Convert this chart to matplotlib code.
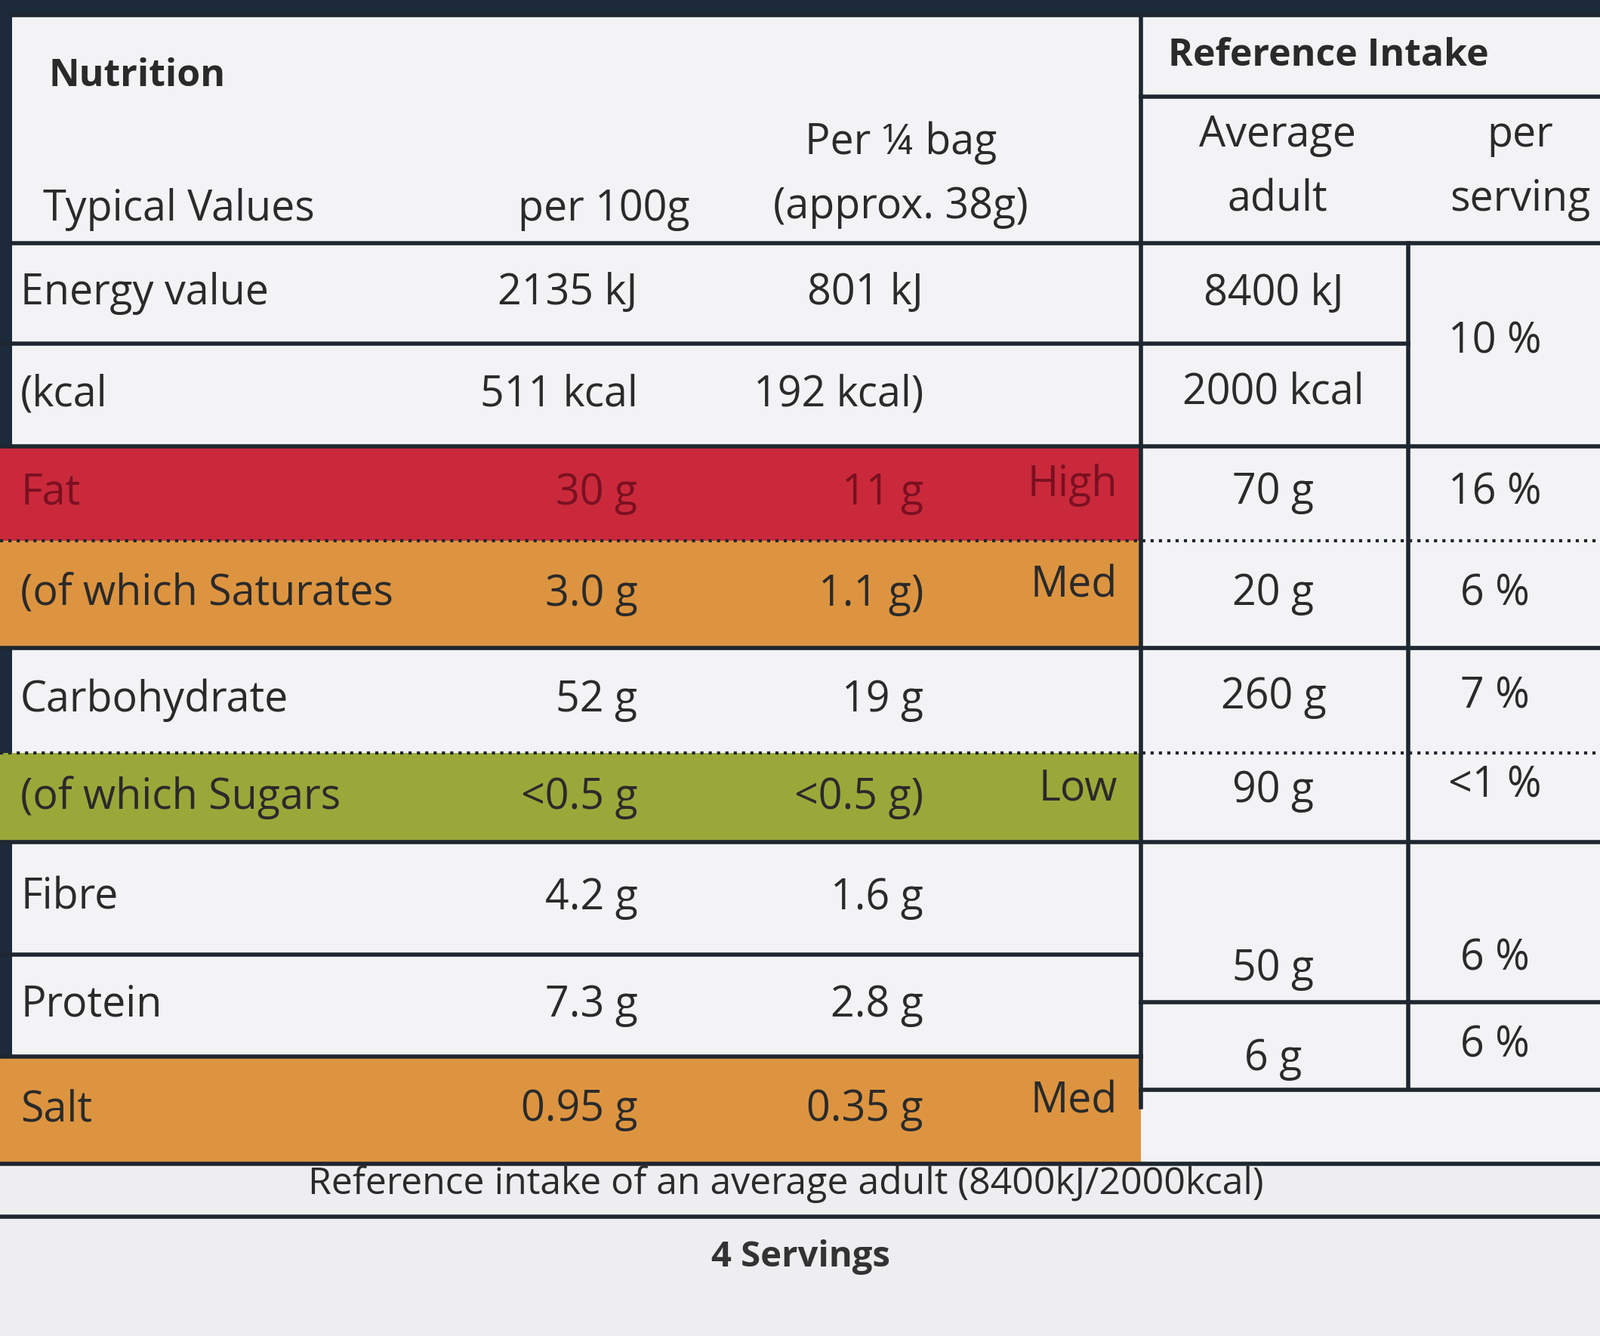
import matplotlib
matplotlib.use("Agg")
import matplotlib.pyplot as plt
from matplotlib.patches import Rectangle

nutrients = ["Energy value", "(kcal", "Fat", "(of which Saturates", "Carbohydrate",
             "(of which Sugars", "Fibre", "Protein", "Salt"]
per_100g = ["2135 kJ", "511 kcal", "30 g", "3.0 g", "52 g", "<0.5 g", "4.2 g", "7.3 g", "0.95 g"]
per_serving = ["801 kJ", "192 kcal)", "11 g", "1.1 g)", "19 g", "<0.5 g)", "1.6 g", "2.8 g", "0.35 g"]
levels = ["", "", "High", "Med", "", "Low", "", "", "Med"]
ref_intake = ["8400 kJ", "2000 kcal", "70 g", "20 g", "260 g", "90 g", "", "50 g", "6 g"]
pct_serving = ["10 %", "16 %", "6 %", "7 %", "<1 %", "", "6 %", "6 %"]

level_colors = {"High": "#c9293b", "Med": "#dd9440", "Low": "#9aa83a"}
row_edges = [238, 337, 437, 530, 635, 738, 825, 935, 1035, 1140]
# vertical centres for the reference-intake block (protein/salt are shifted)
ri_centres = [288, 385, 483, 582, 683, 775, 880, 950, 1038]
pct_centres = [335, 483, 582, 683, 770, 880, 940, 1025]
dotted = {2, 4}

fig = plt.figure(figsize=(21.19, 17.69), dpi=100)
ax = fig.add_axes([0, 0, 1, 1])
ax.set_xlim(0, 1568); ax.set_ylim(1309, 0); ax.axis("off")
fig.patch.set_facecolor("#1c2a3c")
ax.add_patch(Rectangle((12, 15), 1556, 1294, facecolor="#f3f3f5", edgecolor="none"))
ax.add_patch(Rectangle((0, 1140), 1568, 169, facecolor="#eeeef0", edgecolor="none"))

font = "Open Sans"
fs = 40
lc = "#1e2630"
tcol = "#2a2a2a"
for i, name in enumerate(nutrients):
    y0, y1 = row_edges[i], row_edges[i + 1]
    ym = (y0 + y1) / 2
    if levels[i]:
        ax.add_patch(Rectangle((0, y0), 1118, y1 - y0, facecolor=level_colors[levels[i]], edgecolor="none"))
    tc = "#7a1020" if levels[i] == "High" else tcol
    ax.text(20, ym, name, fontsize=fs, family=font, va="center", ha="left", color=tc)
    ax.text(625, ym, per_100g[i], fontsize=fs, family=font, va="center", ha="right", color=tc)
    ax.text(905, ym, per_serving[i], fontsize=fs, family=font, va="center", ha="right", color=tc)
    if levels[i]:
        ax.text(1095, ym - 8, levels[i], fontsize=fs, family=font, va="center", ha="right", color=tc)
    ax.text(1248, ri_centres[i], ref_intake[i], fontsize=fs, family=font, va="center", ha="center", color=tcol)
    if i < len(nutrients) - 1:
        if i in dotted:
            ax.plot([0, 1568], [y1, y1], color=lc, lw=3, ls=":")
        elif i == 0:
            ax.plot([0, 1380], [y1, y1], color=lc, lw=4)
        elif i in (6, 7):
            ax.plot([0, 1118], [y1, y1], color=lc, lw=4)
        else:
            ax.plot([0, 1568], [y1, y1], color=lc, lw=4)

for y, t in zip(pct_centres, pct_serving):
    ax.text(1465, y, t, fontsize=fs, family=font, va="center", ha="center", color=tcol)

# header
ax.text(48, 75, "Nutrition", fontsize=36, family=font, weight="bold", va="center", color=tcol)
ax.text(42, 205, "Typical Values", fontsize=fs, family=font, va="center", color=tcol)
ax.text(592, 205, "per 100g", fontsize=fs, family=font, va="center", ha="center", color=tcol)
ax.text(883, 140, "Per ¼ bag", fontsize=fs, family=font, va="center", ha="center", color=tcol)
ax.text(883, 203, "(approx. 38g)", fontsize=fs, family=font, va="center", ha="center", color=tcol)
ax.text(1145, 55, "Reference Intake", fontsize=36, family=font, weight="bold", va="center", color=tcol)
ax.text(1252, 133, "Average", fontsize=fs, family=font, va="center", ha="center", color=tcol)
ax.text(1252, 196, "adult", fontsize=fs, family=font, va="center", ha="center", color=tcol)
ax.text(1490, 133, "per", fontsize=fs, family=font, va="center", ha="center", color=tcol)
ax.text(1490, 196, "serving", fontsize=fs, family=font, va="center", ha="center", color=tcol)
ax.plot([1118, 1568], [95, 95], color=lc, lw=4)
ax.plot([12, 1568], [238, 238], color=lc, lw=4)
ax.plot([12, 1568], [15, 15], color=lc, lw=4)
ax.plot([1118, 1118], [15, 1085], color=lc, lw=4)
ax.plot([1380, 1380], [238, 1065], color=lc, lw=4)
ax.plot([1118, 1568], [982, 982], color=lc, lw=4)
ax.plot([1118, 1568], [1068, 1068], color=lc, lw=4)
ax.plot([0, 1568], [1140, 1140], color=lc, lw=4)

ax.text(770, 1160, "Reference intake of an average adult (8400kJ/2000kcal)", fontsize=36,
        family=font, va="center", ha="center", color=tcol)
ax.plot([0, 1568], [1192, 1192], color=lc, lw=4)
ax.text(785, 1232, "4 Servings", fontsize=34, family=font, weight="bold", va="center", ha="center", color="#333")

fig.savefig("out.png", dpi=100, facecolor=fig.get_facecolor())
